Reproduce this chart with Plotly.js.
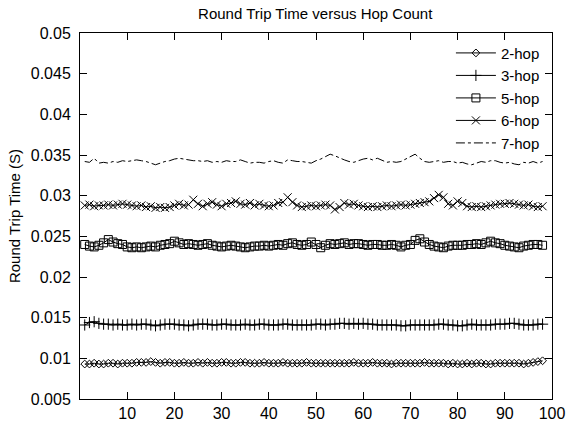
<!DOCTYPE html>
<html>
<head>
<meta charset="utf-8">
<script src="https://cdn.plot.ly/plotly-3.0.1.min.js"></script>
<style>html,body{margin:0;padding:0;background:#fff;}#chart{width:568px;height:422px;}</style>
</head>
<body>
<div id="chart"></div>
<script>
const hops = [1,2,3,4,5,6,7,8,9,10,11,12,13,14,15,16,17,18,19,20,21,22,23,24,25,26,27,28,29,30,31,32,33,34,35,36,37,38,39,40,41,42,43,44,45,46,47,48,49,50,51,52,53,54,55,56,57,58,59,60,61,62,63,64,65,66,67,68,69,70,71,72,73,74,75,76,77,78,79,80,81,82,83,84,85,86,87,88,89,90,91,92,93,94,95,96,97,98];

const hop2 = [0.0093,0.0093,0.0094,0.0093,0.0093,0.0094,0.0094,0.0093,0.0094,0.0094,
 0.0094,0.0095,0.0095,0.0095,0.0096,0.0095,0.0094,0.0095,0.0095,0.0094,
 0.0094,0.0095,0.0094,0.0094,0.0095,0.0094,0.0095,0.0094,0.0094,0.0095,
 0.0095,0.0094,0.0094,0.0095,0.0095,0.0094,0.0094,0.0094,0.0095,0.0094,
 0.0094,0.0094,0.0095,0.0094,0.0094,0.0094,0.0094,0.0095,0.0094,0.0094,
 0.0094,0.0094,0.0094,0.0094,0.0094,0.0094,0.0094,0.0095,0.0094,0.0094,
 0.0094,0.0095,0.0094,0.0094,0.0094,0.0093,0.0094,0.0094,0.0094,0.0094,
 0.0094,0.0094,0.0095,0.0094,0.0094,0.0094,0.0094,0.0093,0.0094,0.0093,
 0.0093,0.0094,0.0093,0.0094,0.0094,0.0093,0.0093,0.0094,0.0094,0.0094,
 0.0094,0.0094,0.0094,0.0093,0.0094,0.0095,0.0096,0.0097];

const hop3 = [0.0141,0.0144,0.0145,0.0143,0.0142,0.0142,0.0141,0.0142,0.0141,0.0141,
 0.0142,0.0141,0.0142,0.0142,0.0141,0.0140,0.0141,0.0142,0.0142,0.0142,
 0.0141,0.0141,0.0140,0.0141,0.0142,0.0142,0.0142,0.0141,0.0141,0.0142,
 0.0142,0.0141,0.0141,0.0141,0.0142,0.0141,0.0141,0.0142,0.0142,0.0141,
 0.0141,0.0141,0.0142,0.0142,0.0141,0.0141,0.0141,0.0141,0.0141,0.0142,
 0.0142,0.0141,0.0142,0.0142,0.0143,0.0143,0.0142,0.0143,0.0142,0.0143,
 0.0142,0.0142,0.0141,0.0141,0.0141,0.0141,0.0141,0.0140,0.0140,0.0141,
 0.0141,0.0141,0.0141,0.0141,0.0141,0.0142,0.0142,0.0141,0.0141,0.0140,
 0.0140,0.0141,0.0142,0.0141,0.0141,0.0141,0.0141,0.0142,0.0142,0.0142,
 0.0143,0.0143,0.0142,0.0141,0.0141,0.0141,0.0142,0.0142];

const hop5 = [0.0240,0.0238,0.0237,0.0239,0.0242,0.0246,0.0243,0.0241,0.0240,0.0237,
 0.0236,0.0237,0.0236,0.0237,0.0238,0.0237,0.0239,0.0240,0.0241,0.0244,
 0.0242,0.0240,0.0241,0.0240,0.0239,0.0240,0.0241,0.0239,0.0238,0.0237,
 0.0238,0.0239,0.0238,0.0237,0.0236,0.0237,0.0238,0.0238,0.0239,0.0238,
 0.0239,0.0240,0.0239,0.0241,0.0242,0.0240,0.0239,0.0240,0.0243,0.0240,
 0.0236,0.0239,0.0241,0.0240,0.0241,0.0242,0.0240,0.0241,0.0241,0.0240,
 0.0239,0.0240,0.0240,0.0239,0.0239,0.0240,0.0239,0.0237,0.0239,0.0240,
 0.0245,0.0247,0.0243,0.0240,0.0238,0.0237,0.0236,0.0238,0.0239,0.0239,
 0.0239,0.0240,0.0240,0.0241,0.0240,0.0242,0.0244,0.0242,0.0241,0.0239,
 0.0238,0.0237,0.0236,0.0238,0.0239,0.0240,0.0240,0.0239];

const hop6 = [0.0288,0.0289,0.0287,0.0288,0.0288,0.0289,0.0288,0.0289,0.0290,0.0289,
 0.0288,0.0287,0.0288,0.0286,0.0287,0.0285,0.0286,0.0285,0.0286,0.0288,
 0.0290,0.0288,0.0289,0.0295,0.0290,0.0287,0.0290,0.0292,0.0289,0.0287,
 0.0290,0.0291,0.0293,0.0290,0.0289,0.0291,0.0288,0.0290,0.0288,0.0287,
 0.0288,0.0291,0.0292,0.0298,0.0292,0.0288,0.0286,0.0287,0.0288,0.0287,
 0.0288,0.0289,0.0288,0.0283,0.0286,0.0291,0.0289,0.0290,0.0288,0.0287,
 0.0286,0.0287,0.0286,0.0287,0.0288,0.0287,0.0288,0.0289,0.0288,0.0289,
 0.0290,0.0291,0.0292,0.0293,0.0297,0.0301,0.0298,0.0290,0.0288,0.0293,
 0.0291,0.0287,0.0286,0.0287,0.0286,0.0287,0.0288,0.0289,0.0290,0.0290,
 0.0291,0.0290,0.0289,0.0288,0.0289,0.0287,0.0286,0.0287];

const hop7 = [0.0342,0.0341,0.0346,0.0340,0.0341,0.0340,0.0342,0.0341,0.0343,0.0342,
 0.0343,0.0344,0.0343,0.0342,0.0340,0.0338,0.0340,0.0342,0.0343,0.0345,
 0.0346,0.0345,0.0344,0.0343,0.0343,0.0342,0.0343,0.0341,0.0342,0.0341,
 0.0343,0.0342,0.0342,0.0344,0.0342,0.0340,0.0341,0.0341,0.0340,0.0342,
 0.0343,0.0341,0.0340,0.0344,0.0343,0.0342,0.0342,0.0341,0.0340,0.0343,
 0.0345,0.0348,0.0351,0.0349,0.0346,0.0344,0.0342,0.0341,0.0343,0.0345,
 0.0346,0.0344,0.0346,0.0343,0.0341,0.0342,0.0341,0.0342,0.0345,0.0348,
 0.0351,0.0346,0.0342,0.0341,0.0342,0.0343,0.0341,0.0342,0.0342,0.0340,
 0.0341,0.0339,0.0338,0.0340,0.0342,0.0341,0.0343,0.0343,0.0341,0.0340,
 0.0341,0.0339,0.0338,0.0341,0.0340,0.0342,0.0340,0.0342];

const seriesNames = ["2-hop","3-hop","5-hop","6-hop","7-hop"];
const xTickVals = [10,20,30,40,50,60,70,80,90,100];
const yTickVals = [0.005,0.01,0.015,0.02,0.025,0.03,0.035,0.04,0.045,0.05];
const yTickText = ["0.005","0.01","0.015","0.02","0.025","0.03","0.035","0.04","0.045","0.05"];

const line = {color:"#000", width:1};
const traces = [
  {x:hops, y:hop2, name:seriesNames[0], mode:"lines+markers", line:line,
   marker:{symbol:"diamond-open", size:6, color:"#000", line:{width:1,color:"#000"}}},
  {x:hops, y:hop3, name:seriesNames[1], mode:"lines+markers", line:line,
   marker:{symbol:"cross-thin-open", size:8, color:"#000", line:{width:1,color:"#000"}}},
  {x:hops, y:hop5, name:seriesNames[2], mode:"lines+markers", line:line,
   marker:{symbol:"square-open", size:8, color:"#000", line:{width:1,color:"#000"}}},
  {x:hops, y:hop6, name:seriesNames[3], mode:"lines+markers", line:line,
   marker:{symbol:"x-thin-open", size:8, color:"#000", line:{width:1,color:"#000"}}},
  {x:hops, y:hop7, name:seriesNames[4], mode:"lines", line:{color:"#000", width:1, dash:"dashdot"}}
];

const font = {family:"Liberation Sans, Arial, sans-serif", color:"#000"};
const layout = {
  width:568, height:422,
  margin:{l:80, r:16, t:33, b:23},
  paper_bgcolor:"#fff", plot_bgcolor:"#fff",
  font:Object.assign({size:14}, font),
  title:{text:"Round Trip Time versus Hop Count", x:0.555, xanchor:"center", y:0.968, yanchor:"middle",
         font:Object.assign({size:15}, font)},
  showlegend:true,
  legend:{x:0.985, xanchor:"right", y:0.99, yanchor:"top", bgcolor:"rgba(0,0,0,0)",
          font:Object.assign({size:15}, font), tracegroupgap:0, itemwidth:40},
  xaxis:{range:[0,100], tickvals:xTickVals, ticks:"inside", ticklen:7, tickcolor:"#000",
         showline:true, linecolor:"#000", linewidth:1, mirror:"ticks", showgrid:false, zeroline:false,
         tickfont:Object.assign({size:16}, font)},
  yaxis:{range:[0.005,0.05], tickvals:yTickVals, ticktext:yTickText, ticks:"inside", ticklen:7, tickcolor:"#000",
         showline:true, linecolor:"#000", linewidth:1, mirror:"ticks", showgrid:false, zeroline:false,
         ticklabelstandoff:5,
         tickfont:Object.assign({size:16}, font),
         title:{text:"Round Trip Time (S)", font:Object.assign({size:15}, font), standoff:6}}
};
Plotly.newPlot("chart", traces, layout, {displayModeBar:false, staticPlot:true});
</script>
</body>
</html>
